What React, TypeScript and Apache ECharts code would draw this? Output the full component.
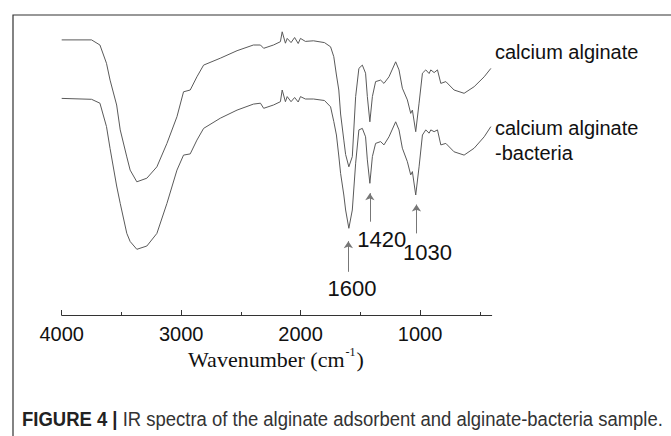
import React, { useEffect, useRef } from "react";
import * as echarts from "echarts";

// Wavenumber grid (cm-1) shared by both spectra
const wavenumbers = [4000, 3750, 3680, 3625, 3595, 3540, 3510, 3455, 3427, 3371, 3287, 3203, 3119, 3035, 2980, 2924, 2868, 2812, 2672, 2532, 2395, 2336, 2309, 2227, 2169, 2154, 2127, 2112, 2080, 2050, 2020, 2001, 1960, 1892, 1800, 1749, 1722, 1700, 1680, 1665, 1638, 1623, 1596, 1567, 1539, 1512, 1483, 1456, 1441, 1420, 1399, 1372, 1330, 1302, 1260, 1204, 1176, 1148, 1106, 1078, 1064, 1036, 1008, 980, 952, 924, 910, 882, 854, 826, 784, 715, 631, 547, 463, 407];

// calcium alginate (upper trace, arbitrary transmittance units)
const alginate = [91.7, 91.7, 90.0, 83.9, 78.3, 70.0, 61.7, 52.7, 48.3, 44.4, 45.6, 49.4, 57.2, 66.1, 74.4, 75.0, 79.4, 83.3, 85.6, 88.1, 90.0, 90.0, 88.9, 90.0, 91.1, 94.4, 90.6, 92.2, 90.8, 92.5, 90.5, 92.2, 91.2, 91.4, 90.8, 89.4, 86.1, 80.0, 75.0, 67.0, 58.3, 53.5, 49.4, 52.8, 72.8, 82.2, 83.3, 80.6, 72.8, 64.4, 72.8, 77.8, 78.3, 77.2, 79.4, 84.4, 81.7, 75.6, 71.7, 67.2, 68.3, 61.1, 70.6, 80.6, 81.7, 80.5, 81.7, 80.8, 81.7, 77.2, 77.8, 75.0, 73.9, 76.1, 79.4, 82.2];

// calcium alginate-bacteria (lower trace)
const alginateBacteria = [72.2, 71.9, 70.6, 62.8, 55.5, 43.0, 37.2, 27.2, 24.5, 21.9, 23.0, 27.2, 37.2, 48.3, 53.3, 53.7, 58.3, 62.2, 65.6, 68.3, 70.3, 70.6, 68.9, 70.0, 71.1, 75.0, 71.1, 72.8, 71.1, 72.5, 71.0, 72.8, 72.0, 72.0, 71.5, 69.4, 64.5, 60.0, 53.0, 47.2, 40.0, 35.0, 28.9, 35.0, 50.6, 61.7, 62.2, 59.4, 51.7, 43.9, 52.8, 57.2, 57.8, 56.7, 59.4, 64.4, 61.7, 55.6, 51.1, 46.7, 47.8, 40.0, 49.4, 60.0, 61.7, 60.6, 61.7, 61.1, 61.7, 56.7, 57.2, 54.4, 53.3, 55.6, 59.4, 62.8];

const majorTicks = [1000, 2000, 3000, 4000];
const minorTicks = [500, 1500, 2500, 3500];

const peakWavenumbers = [1600, 1420, 1030];
const peakLabels = ["1600", "1420", "1030"];
const arrowBase = [14.4, 31.1, 27.2];
const arrowTip = [24.6, 40.6, 36.8];

const seriesNames = ["calcium alginate", "calcium alginate-bacteria"];

export default function App() {
  const ref = useRef<HTMLDivElement>(null);

  useEffect(() => {
    const el = ref.current;
    if (!el) return;
    const chart = echarts.init(el, null, { renderer: "svg" });

    const canvas = document.createElement("canvas");
    const ctx = canvas.getContext("2d")!;
    const measure = (t: string, font: string) => {
      ctx.font = font;
      return ctx.measureText(t).width;
    };

    const sans = "Liberation Sans";
    const serif = "Liberation Serif";

    // axis name layout
    const nameSize = 22;
    const supSize = 12;
    const n1 = "Wavenumber (cm";
    const n2 = "-1";
    const n3 = ")";
    const w1 = measure(n1, `${nameSize}px "${serif}"`);
    const w2 = measure(n2, `${supSize}px "${serif}"`);
    const w3 = measure(n3, `${nameSize}px "${serif}"`);
    const nameTotal = w1 + 1 + w2 + 1 + w3;
    const nameX = 276 - nameTotal / 2;
    const nameY = 359;

    // caption layout
    const capSize = 20;
    const capBold = "FIGURE 4 |";
    const capRest = "IR spectra of the alginate adsorbent and alginate-bacteria sample.";
    const wb = measure(capBold, `bold ${capSize}px "${sans}"`);
    const gap = measure(" ", `${capSize}px "${sans}"`);
    const wr = measure(capRest, `${capSize}px "${sans}"`);
    const capLeft = 22;
    const capRight = 663;
    const capScale = (capRight - capLeft) / (wb + gap + wr);

    const lineData = (vals: number[]) => wavenumbers.map((w, i) => [w, vals[i]]);

    const option: any = {
      animation: false,
      backgroundColor: "#ffffff",
      grid: { left: 61.7, right: 179.3, top: 15, bottom: 121, containLabel: false },
      xAxis: [
        {
          type: "value",
          min: 400,
          max: 4000,
          inverse: true,
          position: "bottom",
          axisLine: { show: true, lineStyle: { color: "#333", width: 1 } },
          axisTick: { show: true, inside: true, length: 5, customValues: majorTicks, lineStyle: { color: "#333", width: 1 } },
          axisLabel: {
            show: true,
            customValues: majorTicks,
            formatter: (v: number) => String(v),
            margin: 9,
            fontSize: 20,
            fontFamily: sans,
            color: "#111",
          },
          splitLine: { show: false },
        },
        {
          type: "value",
          min: 400,
          max: 4000,
          inverse: true,
          position: "bottom",
          gridIndex: 0,
          axisLine: { show: false },
          axisTick: { show: true, inside: true, length: 3, customValues: minorTicks, lineStyle: { color: "#333", width: 1 } },
          axisLabel: { show: false },
          splitLine: { show: false },
        },
      ],
      yAxis: { type: "value", min: 0, max: 100, show: false },
      series: [
        {
          name: seriesNames[0],
          type: "line",
          xAxisIndex: 0,
          data: lineData(alginate),
          showSymbol: false,
          symbol: "none",
          lineStyle: { color: "#5a5a5a", width: 1 },
          silent: true,
        },
        {
          name: seriesNames[1],
          type: "line",
          xAxisIndex: 0,
          data: lineData(alginateBacteria),
          showSymbol: false,
          symbol: "none",
          lineStyle: { color: "#5a5a5a", width: 1 },
          silent: true,
          markLine: {
            silent: true,
            symbol: ["none", "arrow"],
            symbolSize: 7,
            label: { show: false },
            lineStyle: { color: "#777", width: 1, type: "solid" },
            itemStyle: { color: "#222" },
            data: peakWavenumbers.map((w, i) => [
              { coord: [w, arrowBase[i]] },
              { coord: [w, arrowTip[i]] },
            ]),
          },
        },
      ],
      graphic: [
        {
          type: "rect",
          silent: true,
          shape: { x: 13, y: 15, width: 680, height: 450 },
          style: { fill: "none", stroke: "#333", lineWidth: 1.2 },
          z: 0,
        },
        {
          type: "text",
          x: 495,
          y: 51.7,
          style: { text: "calcium alginate", font: `20px "${sans}"`, fill: "#111", textAlign: "left", textVerticalAlign: "middle" },
        },
        {
          type: "text",
          x: 495,
          y: 128,
          style: { text: "calcium alginate", font: `20px "${sans}"`, fill: "#111", textAlign: "left", textVerticalAlign: "middle" },
        },
        {
          type: "text",
          x: 495,
          y: 152.7,
          style: { text: "-bacteria", font: `20px "${sans}"`, fill: "#111", textAlign: "left", textVerticalAlign: "middle" },
        },
        {
          type: "text",
          x: 352,
          y: 288.3,
          style: { text: peakLabels[0], font: `22px "${sans}"`, fill: "#111", textAlign: "center", textVerticalAlign: "middle" },
        },
        {
          type: "text",
          x: 381.7,
          y: 239,
          style: { text: peakLabels[1], font: `22px "${sans}"`, fill: "#111", textAlign: "center", textVerticalAlign: "middle" },
        },
        {
          type: "text",
          x: 427.5,
          y: 252.3,
          style: { text: peakLabels[2], font: `22px "${sans}"`, fill: "#111", textAlign: "center", textVerticalAlign: "middle" },
        },
        {
          type: "text",
          x: nameX,
          y: nameY,
          style: { text: n1, font: `${nameSize}px "${serif}"`, fill: "#111", textAlign: "left", textVerticalAlign: "middle" },
        },
        {
          type: "text",
          x: nameX + w1 + 1,
          y: nameY - 7,
          style: { text: n2, font: `${supSize}px "${serif}"`, fill: "#111", textAlign: "left", textVerticalAlign: "middle" },
        },
        {
          type: "text",
          x: nameX + w1 + 1 + w2 + 1,
          y: nameY,
          style: { text: n3, font: `${nameSize}px "${serif}"`, fill: "#111", textAlign: "left", textVerticalAlign: "middle" },
        },
        {
          type: "group",
          x: capLeft,
          y: 419,
          scaleX: capScale,
          children: [
            {
              type: "text",
              x: 0,
              y: 0,
              style: { text: capBold, font: `bold ${capSize}px "${sans}"`, fill: "#222", textAlign: "left", textVerticalAlign: "middle" },
            },
            {
              type: "text",
              x: wb + gap,
              y: 0,
              style: { text: capRest, font: `${capSize}px "${sans}"`, fill: "#333", textAlign: "left", textVerticalAlign: "middle" },
            },
          ],
        },
      ],
    };

    chart.setOption(option);
    return () => chart.dispose();
  }, []);

  return (
    <div
      ref={ref}
      style={{ position: "absolute", left: 0, top: 0, width: 671, height: 436, background: "#fff" }}
    />
  );
}
